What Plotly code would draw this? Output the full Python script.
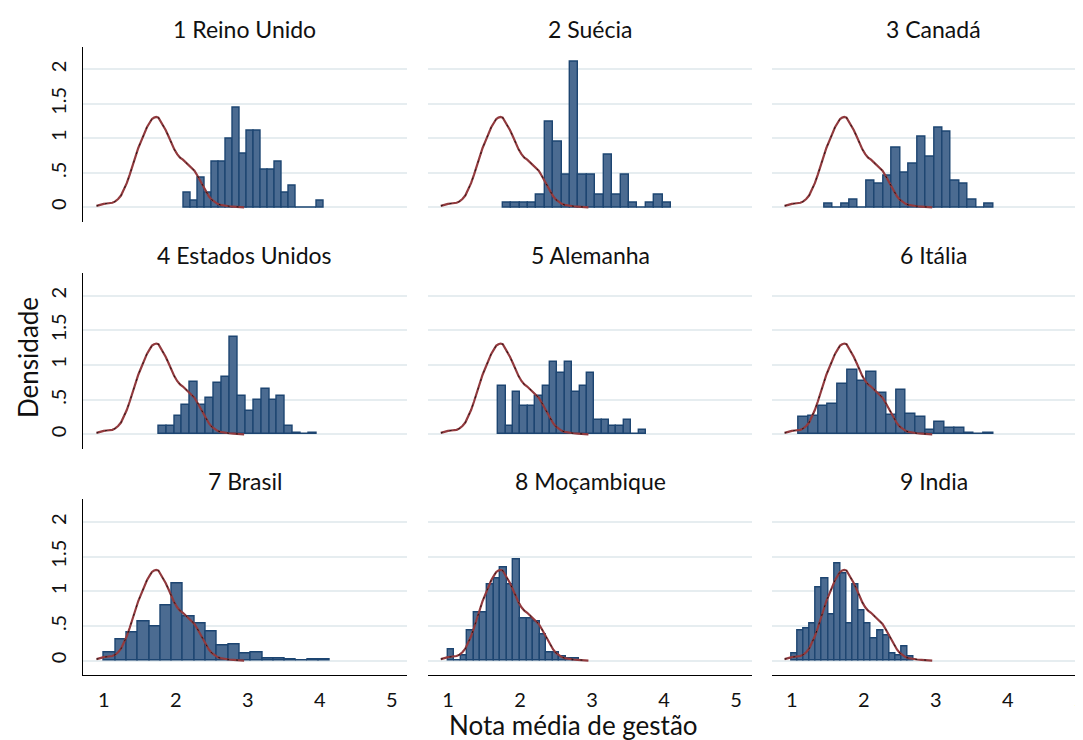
import plotly.graph_objects as go

# the page body keeps its default 8px margin, so the figure is placed at (8, 8)
OFF = 8
W, H = 1083 - OFF, 740 - OFF
FONT = "Lato"

countries = ["1 Reino Unido", "2 Suécia", "3 Canadá",
             "4 Estados Unidos", "5 Alemanha", "6 Itália",
             "7 Brasil", "8 Moçambique", "9 India"]

# histogram bins: left edge of first bin and bin width per country
bin_start = [2.106, 1.759, 1.449, 1.759, 1.699, 1.097, 1.004, 0.994, 0.994]
bin_width = [0.0978, 0.1169, 0.1174, 0.110, 0.1025, 0.135, 0.157, 0.0914, 0.085]

dens_reino_unido = [0.21, 0.096, 0.43, 0.21, 0.66, 0.66, 1.00, 1.44, 0.77, 1.11,
                    1.11, 0.55, 0.55, 0.66, 0.21, 0.32, 0, 0, 0, 0.09]
dens_suecia = [0.072, 0.072, 0.072, 0.072, 0.178, 1.236, 0.952, 0.467, 2.11, 0.467,
               0.467, 0.178, 0.765, 0.178, 0.467, 0.072, 0, 0.072, 0.178, 0.072]
dens_canada = [0.048, 0, 0.048, 0.106, 0, 0.39, 0.34, 0.46, 0.86, 0.505,
               0.63, 1.03, 0.74, 1.15, 1.09, 0.39, 0.34, 0.106, 0, 0.048]
dens_eua = [0.12, 0.12, 0.26, 0.42, 0.76, 0.42, 0.53, 0.74, 0.83, 1.41,
            0.56, 0.33, 0.50, 0.66, 0.49, 0.56, 0.125, 0.012, 0, 0.012]
dens_alemanha = [0.70, 0.125, 0.615, 0.41, 0.41, 0.55, 0.70, 1.04, 0.89, 1.04,
                 0.615, 0.70, 0.89, 0.20, 0.20, 0.125, 0.125, 0.20, 0, 0.058]
dens_italia = [0.245, 0.27, 0.41, 0.44, 0.72, 0.93, 0.77, 0.90, 0.59, 0.28,
               0.64, 0.30, 0.245, 0.067, 0.18, 0.087, 0.087, 0.012, 0, 0.012]
dens_brasil = [0.12, 0.30, 0.41, 0.56, 0.49, 0.79, 1.12, 0.64, 0.53, 0.42,
               0.22, 0.24, 0.097, 0.12, 0.03, 0.03, 0.012, 0, 0.012, 0.012]
dens_mocambique = [0.16, 0, 0.07, 0.43, 0.70, 0.70, 1.10, 1.19, 1.34, 1.10,
                   1.46, 0.61, 0.61, 0.57, 0.38, 0.12, 0.12, 0.06, 0.03, 0.03]
dens_india = [0.097, 0.44, 0.47, 0.54, 1.06, 1.18, 0.66, 1.40, 1.26, 0.54,
              1.10, 0.73, 0.54, 0.32, 0.43, 0.36, 0.097, 0.068, 0.20, 0.058]

hist_values = [dens_reino_unido, dens_suecia, dens_canada,
               dens_eua, dens_alemanha, dens_italia,
               dens_brasil, dens_mocambique, dens_india]

# reference kernel density (same curve in every panel)
kd_x = [0.90, 0.93, 0.96, 1.00, 1.04, 1.08, 1.12, 1.16, 1.20, 1.24,
        1.28, 1.32, 1.36, 1.40, 1.44, 1.48, 1.52, 1.56, 1.60, 1.64,
        1.67, 1.70, 1.73, 1.76, 1.79, 1.82, 1.86, 1.90, 1.94, 1.98,
        2.02, 2.06, 2.10, 2.14, 2.18, 2.22, 2.26, 2.30, 2.34, 2.38,
        2.42, 2.46, 2.50, 2.54, 2.58, 2.62, 2.68, 2.74, 2.80, 2.86,
        2.92, 2.95]
kd_y = [0.02, 0.03, 0.04, 0.05, 0.055, 0.06, 0.065, 0.085, 0.12, 0.17,
        0.25, 0.35, 0.47, 0.61, 0.72, 0.86, 0.96, 1.06, 1.16, 1.23,
        1.28, 1.30, 1.31, 1.30, 1.25, 1.20, 1.12, 1.03, 0.93, 0.84,
        0.77, 0.72, 0.69, 0.65, 0.62, 0.58, 0.53, 0.46, 0.38, 0.30,
        0.23, 0.16, 0.11, 0.08, 0.05, 0.035, 0.02, 0.015, 0.01, 0.005,
        0.003, 0.0]

y_tickvals = [0, 0.5, 1, 1.5, 2]
y_ticktext = ["0", ".5", "1", "1.5", "2"]
x_tickvals = [1, 2, 3, 4, 5]
x_ticktext = ["1", "2", "3", "4", "5"]

# layout geometry (screen pixels)
col_px = [(82.7, 406.7), (428.0, 752.0), (771.5, 1083.0)]
row_px = [(46.7, 221.7), (273.0, 448.8), (499.4, 675.0)]
x_ranges = [[0.708, 5.208], [0.722, 5.222], [0.718, 5.044]]
y_range = [-0.209, 2.328]

def px_x(p):
    return (p - OFF) / W

def px_y(p):
    return 1 - (p - OFF) / H

BAR_FILL = "#4b6b91"
BAR_LINE = "#1d4571"
KD_COLOR = "#923a3e"
GRID = "#e6edf0"

fig = go.Figure()
annotations = []

for k in range(9):
    r, c = divmod(k, 3)
    idx = "" if k == 0 else str(k + 1)
    xa, ya = "x" + idx, "y" + idx
    vals = hist_values[k]
    w = bin_width[k]
    centers = [bin_start[k] + w * (i + 0.5) for i in range(len(vals))]
    fig.add_trace(go.Bar(x=centers, y=vals, width=w, xaxis=xa, yaxis=ya,
                         marker=dict(color=BAR_FILL, line=dict(color=BAR_LINE, width=1.4)),
                         showlegend=False, hoverinfo="skip"))
    fig.add_trace(go.Scatter(x=kd_x, y=kd_y, mode="lines", xaxis=xa, yaxis=ya,
                             line=dict(color=KD_COLOR, width=2.2),
                             showlegend=False, hoverinfo="skip"))
    fig.add_trace(go.Scatter(x=kd_x, y=kd_y, mode="lines", xaxis=xa, yaxis=ya,
                             line=dict(color="#111111", width=0.9, dash="2px,7px"),
                             showlegend=False, hoverinfo="skip"))

    x0, x1 = col_px[c]
    y0, y1 = row_px[r]
    xdom = [px_x(x0), min(px_x(x1), 1.0)]
    ydom = [px_y(y1), px_y(y0)]
    bottom = (r == 2)
    left = (c == 0)
    fig.layout["xaxis" + idx] = dict(
        domain=xdom, range=x_ranges[c], anchor=ya,
        showgrid=False, zeroline=False, automargin=False,
        showline=bottom, linecolor="#000000", linewidth=1.2,
        showticklabels=bottom, tickvals=x_tickvals, ticktext=x_ticktext,
        ticks="", ticklabelstandoff=7, ticklabeloverflow="allow",
        tickfont=dict(family=FONT, size=20, color="#111111"))
    fig.layout["yaxis" + idx] = dict(
        domain=ydom, range=y_range, anchor=xa,
        showgrid=True, gridcolor=GRID, gridwidth=1.6, zeroline=False,
        automargin=False, showline=left, linecolor="#000000", linewidth=1.2,
        showticklabels=left, tickvals=y_tickvals, ticktext=y_ticktext,
        ticks="", tickangle=-90, ticklabelstandoff=8,
        tickfont=dict(family=FONT, size=20, color="#111111"))
    annotations.append(dict(text=countries[k], xref="paper", yref="paper",
                            x=px_x(x0 + 162), y=px_y(y0 - 18),
                            xanchor="center", yanchor="middle", showarrow=False,
                            font=dict(family=FONT, size=23, color="#111111")))

annotations.append(dict(text="Nota média de gestão", xref="paper", yref="paper",
                        x=px_x(573), y=px_y(725), xanchor="center", yanchor="middle",
                        showarrow=False, font=dict(family=FONT, size=26, color="#111111")))
annotations.append(dict(text="Densidade", xref="paper", yref="paper",
                        x=px_x(28), y=px_y(358), xanchor="center", yanchor="middle",
                        textangle=-90, showarrow=False,
                        font=dict(family=FONT, size=26, color="#111111")))

fig.update_layout(width=W, height=H, margin=dict(l=0, r=0, t=0, b=0),
                  paper_bgcolor="white", plot_bgcolor="white",
                  barmode="overlay", bargap=0, annotations=annotations,
                  font=dict(family=FONT))

fig.write_html("out.html")
